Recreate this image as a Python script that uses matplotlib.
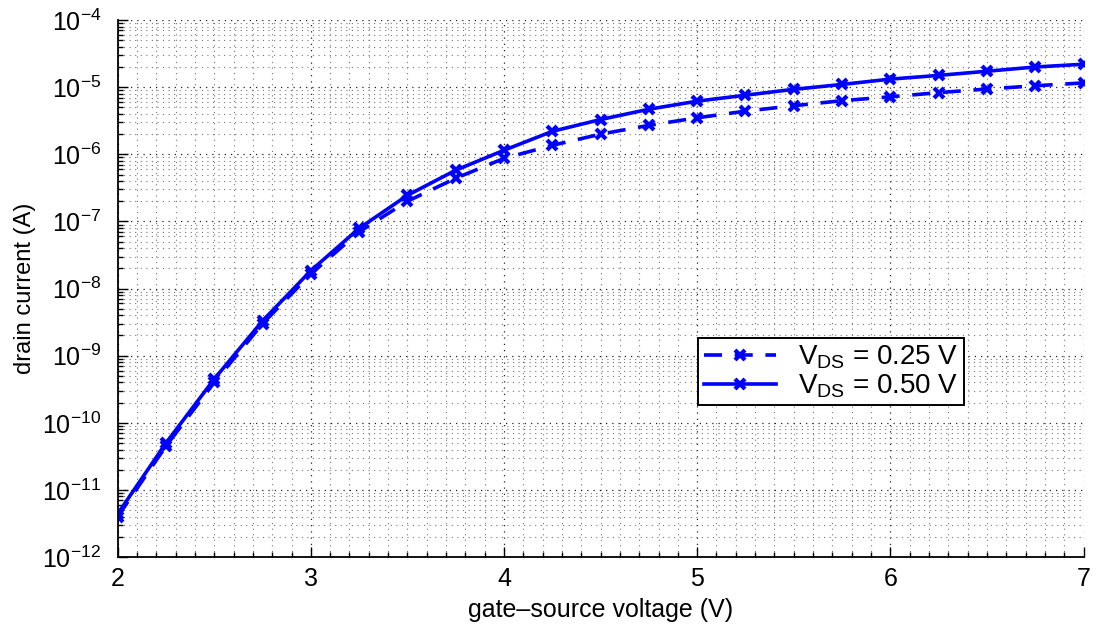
import numpy as np
import matplotlib
matplotlib.use("Agg")
import matplotlib.pyplot as plt
from matplotlib.ticker import LogLocator, MultipleLocator, NullFormatter

vgs = [2.0, 2.25, 2.5, 2.75, 3.0, 3.25, 3.5, 3.75, 4.0, 4.25, 4.5, 4.75,
       5.0, 5.25, 5.5, 5.75, 6.0, 6.25, 6.5, 6.75, 7.0]
id_025 = [4.0e-12, 4.5e-11, 4.0e-10, 3.0e-9, 1.65e-8, 7.0e-8, 2.0e-7, 4.4e-7,
          8.7e-7, 1.36e-6, 2.0e-6, 2.7e-6, 3.5e-6, 4.4e-6, 5.3e-6, 6.3e-6,
          7.2e-6, 8.3e-6, 9.4e-6, 1.05e-5, 1.16e-5]
id_050 = [4.4e-12, 5.0e-11, 4.5e-10, 3.3e-9, 1.85e-8, 7.9e-8, 2.45e-7, 5.8e-7,
          1.15e-6, 2.2e-6, 3.3e-6, 4.7e-6, 6.2e-6, 7.6e-6, 9.3e-6, 1.1e-5,
          1.32e-5, 1.5e-5, 1.73e-5, 2.0e-5, 2.2e-5]
labels = [r'$\mathregular{V_{DS}}$ = 0.25 V', r'$\mathregular{V_{DS}}$ = 0.50 V']
xticks = [2, 3, 4, 5, 6, 7]

plt.rcParams['font.family'] = ['Liberation Sans', 'DejaVu Sans']
plt.rcParams['mathtext.fontset'] = 'custom'
plt.rcParams['mathtext.rm'] = 'Liberation Sans'
plt.rcParams['mathtext.it'] = 'Liberation Sans'

fig = plt.figure(figsize=(11, 6.28), dpi=100)
ax = fig.add_axes([0.107, 0.113, 0.878, 0.855])

blue = '#0000ff'
ax.semilogy(vgs, id_025, '--', color=blue, lw=2.6, marker='x', ms=7.5, mew=3,
            dashes=(5, 3.5), label=labels[0])
ax.semilogy(vgs, id_050, '-', color=blue, lw=2.6, marker='x', ms=7.5, mew=3,
            label=labels[1])

ax.set_xlim(2, 7)
ax.set_ylim(1e-12, 1e-4)
ax.set_xticks(xticks)
ax.xaxis.set_minor_locator(MultipleLocator(0.1))
ax.yaxis.set_major_locator(LogLocator(base=10, numticks=20))
ax.yaxis.set_minor_locator(LogLocator(base=10, subs=np.arange(2, 10), numticks=100))
ax.yaxis.set_minor_formatter(NullFormatter())

ax.grid(True, which='major', ls=(0, (1, 4)), color='#222222', lw=0.9)
ax.grid(True, which='minor', ls=(0, (1, 4)), color='#777777', lw=0.8)

for s in ['top', 'right']:
    ax.spines[s].set_visible(False)
ax.spines['left'].set_linewidth(1.3)
ax.spines['bottom'].set_linewidth(1.3)
ax.tick_params(which='both', direction='in', top=False, right=False, width=1.0)
ax.tick_params(which='major', length=7)
ax.tick_params(which='minor', length=3.5)
ax.tick_params(axis='x', labelsize=18, pad=7)
ax.tick_params(axis='y', labelsize=18, pad=12)

ax.set_xlabel('gate\u2013source voltage (V)', fontsize=18, labelpad=5)
ax.set_ylabel('drain current (A)', fontsize=17, labelpad=4)

leg = ax.legend(loc='upper left', bbox_to_anchor=(0.601, 0.408), fontsize=20,
                frameon=True, fancybox=False, edgecolor='black', framealpha=1,
                handlelength=2.6, borderpad=0.2, labelspacing=0.05,
                handletextpad=0.8, borderaxespad=0)
leg.get_frame().set_linewidth(1.4)

fig.savefig('out.png', dpi=100)
